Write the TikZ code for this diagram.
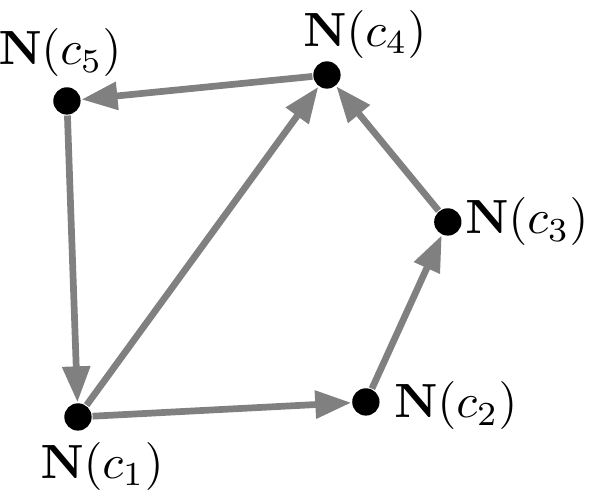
\documentclass[tikz,border=0pt]{standalone}
\usetikzlibrary{arrows.meta}
\begin{document}
\begin{tikzpicture}[y=-1cm]
        \useasboundingbox (0,0) rectangle (4.32,3.63);
        \begin{scope}[every node/.style={circle,fill=black,inner sep=0pt,minimum size=0.2cm}]
            \node (c1) at (0.571,3.053) {};
            \node (c2) at (2.679,2.943) {};
            \node (c3) at (3.279,1.625) {};
            \node (c4) at (2.394,0.549) {};
            \node (c5) at (0.490,0.739) {};
        \end{scope}
        \node (l1) at (0.747,3.414) {$\mathbf{N}(c_1)$};
        \node (l2) at (3.338,2.972) {$\mathbf{N}(c_2)$};
        \node (l3) at (3.858,1.625) {$\mathbf{N}(c_3)$};
        \node (l4) at (2.672,0.253) {$\mathbf{N}(c_4)$};
        \node (l5) at (0.439,0.388) {$\mathbf{N}(c_5)$};
        \begin{scope}[every path/.style={draw=black!50,line width=1.4pt,-{Triangle[length=7.5pt,width=5.6pt]}}]
            \draw (c5) -- (c1);
            \draw (c1) -- (c2);
            \draw (c2) -- (c3);
            \draw (c3) -- (c4);
            \draw (c4) -- (c5);
            \draw (c1) -- (c4);
        \end{scope}
    \end{tikzpicture}
\end{document}
